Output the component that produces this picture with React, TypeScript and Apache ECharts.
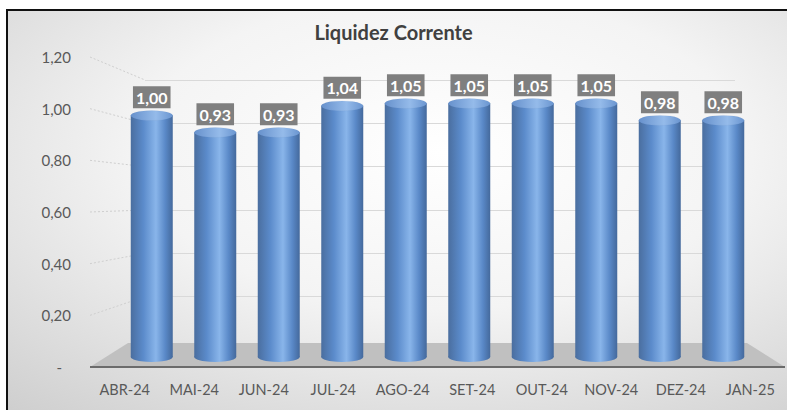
import React, { useEffect, useRef } from "react";
import * as echarts from "echarts";

const title = "Liquidez Corrente";
const categories = ["ABR-24", "MAI-24", "JUN-24", "JUL-24", "AGO-24", "SET-24", "OUT-24", "NOV-24", "DEZ-24", "JAN-25"];
const values = [1.0, 0.93, 0.93, 1.04, 1.05, 1.05, 1.05, 1.05, 0.98, 0.98];
const yTicks = [0, 0.2, 0.4, 0.6, 0.8, 1.0, 1.2];

const W = 787;
const H = 410;
const Y_MAX = 1.2;
const Y_STEP = 0.2;
// front plane (tick labels, floor front edge)
const FRONT = { left: 90, right: 785, top: 57, bottom: 367 };
// middle plane (cylinders)
const MID = { left: 120, right: 755, top: 67, bottom: 357 };
// back wall (0 at bottom, Y_MAX at top)
const BACK = { left: 145, right: 735, top: 80, bottom: 340 };
const FLOOR_BACK = { left: 128, right: 747, y: 343 };
const FONT = "Lato, 'Open Sans', sans-serif";

const fmt = (v: number) => v.toFixed(2).replace(".", ",");
const yFront = (v: number) => FRONT.bottom - (v / Y_MAX) * (FRONT.bottom - FRONT.top);
const yBack = (v: number) => BACK.bottom - (v / Y_MAX) * (BACK.bottom - BACK.top);

export default function App() {
  const ref = useRef<HTMLDivElement>(null);
  useEffect(() => {
    if (!ref.current) return;
    const chart = echarts.init(ref.current, undefined, { renderer: "svg" });

    const barGrad = new echarts.graphic.LinearGradient(0, 0, 1, 0, [
      { offset: 0, color: "#4a6e9f" },
      { offset: 0.3, color: "#5b8bcb" },
      { offset: 0.6, color: "#89b5ea" },
      { offset: 0.82, color: "#5a89c8" },
      { offset: 1, color: "#44699c" },
    ]);
    const topGrad = new echarts.graphic.LinearGradient(0, 0, 1, 0, [
      { offset: 0, color: "#6791cc" },
      { offset: 0.6, color: "#95bbea" },
      { offset: 1, color: "#6a95d0" },
    ]);

    const backBottomGrid = yBack(Y_STEP);

    const sideLines = yTicks
      .filter((v) => v > 0)
      .map((v) => ({
        type: "line",
        z: -5,
        shape: { x1: FRONT.left, y1: yFront(v), x2: BACK.left, y2: yBack(v) },
        style: { stroke: "#cfcfcf", lineWidth: 1, lineDash: [2, 2] },
        silent: true,
      }));

    chart.setOption({
      animation: false,
      title: {
        text: title,
        left: "center",
        top: 17,
        textStyle: { color: "#404040", fontSize: 20, fontWeight: "bold", fontFamily: FONT },
      },
      graphic: [
        {
          type: "rect",
          z: -10,
          shape: { x: 7, y: 10, width: 820, height: 430 },
          style: {
            fill: {
              type: "radial",
              x: 0.53,
              y: 0.33,
              r: 1.05,
              colorStops: [
                { offset: 0, color: "#ffffff" },
                { offset: 0.35, color: "#f4f4f4" },
                { offset: 1, color: "#b9b9b9" },
              ],
            },
            stroke: "#111111",
            lineWidth: 2,
          },
          silent: true,
        },
        ...sideLines,
        {
          type: "polygon",
          z: -4,
          shape: {
            points: [
              [FRONT.left, FRONT.bottom],
              [FLOOR_BACK.left, FLOOR_BACK.y],
              [FLOOR_BACK.right, FLOOR_BACK.y],
              [FRONT.right, FRONT.bottom],
            ],
          },
          style: { fill: "#c0c0c0" },
          silent: true,
        },
        {
          type: "line",
          z: -3,
          shape: { x1: FRONT.left, y1: FRONT.bottom, x2: FRONT.right, y2: FRONT.bottom },
          style: { stroke: "#6b6b6b", lineWidth: 2 },
          silent: true,
        },
      ],
      grid: [
        {
          left: FRONT.left,
          top: FRONT.top,
          width: FRONT.right - FRONT.left,
          height: FRONT.bottom - FRONT.top,
          outerBoundsMode: "none",
        },
        {
          left: MID.left,
          top: MID.top,
          width: MID.right - MID.left,
          height: MID.bottom - MID.top,
          outerBoundsMode: "none",
        },
        {
          left: BACK.left,
          top: BACK.top,
          width: BACK.right - BACK.left,
          height: backBottomGrid - BACK.top,
          outerBoundsMode: "none",
        },
      ],
      xAxis: [
        {
          gridIndex: 0,
          type: "category",
          data: categories,
          axisLine: { show: false },
          axisTick: { show: false },
          axisLabel: { color: "#595959", fontSize: 14.5, fontFamily: FONT, margin: 15, interval: 0, hideOverlap: false },
        },
        { gridIndex: 1, type: "category", data: categories, show: false },
        { gridIndex: 2, type: "category", data: categories, show: false },
      ],
      yAxis: [
        {
          gridIndex: 0,
          type: "value",
          min: 0,
          max: Y_MAX,
          interval: Y_STEP,
          axisLine: { show: false },
          axisTick: { show: false },
          splitLine: { show: false },
          axisLabel: {
            color: "#595959",
            fontSize: 15,
            fontFamily: FONT,
            margin: 19,
            formatter: (v: number) => (Math.abs(v) < 1e-9 ? "{z|-}" : fmt(v)),
            rich: { z: { color: "#595959", fontSize: 15, fontFamily: FONT, padding: [0, 9, 0, 0] } },
          },
        },
        { gridIndex: 1, type: "value", min: 0, max: Y_MAX, show: false },
        {
          gridIndex: 2,
          type: "value",
          min: Y_STEP,
          max: Y_MAX,
          interval: Y_STEP,
          axisLine: { show: false },
          axisTick: { show: false },
          axisLabel: { show: false },
          splitLine: { show: true, lineStyle: { color: "#d9d9d9", width: 1 } },
        },
      ],
      series: [
        {
          type: "bar",
          xAxisIndex: 1,
          yAxisIndex: 1,
          data: values,
          barWidth: 42,
          z: 3,
          itemStyle: { color: barGrad },
          label: {
            show: true,
            position: "top",
            distance: 7,
            formatter: (p: any) => fmt(p.value),
            color: "#ffffff",
            fontWeight: "bold",
            fontSize: 16,
            fontFamily: FONT,
            backgroundColor: "#7f7f7f",
            padding: [3, 3, 3, 3],
          },
        },
        {
          type: "pictorialBar",
          xAxisIndex: 1,
          yAxisIndex: 1,
          data: values,
          symbol: "circle",
          symbolSize: [42, 10],
          symbolOffset: [0, "50%"],
          z: 3,
          itemStyle: { color: barGrad },
        },
        {
          type: "pictorialBar",
          xAxisIndex: 1,
          yAxisIndex: 1,
          data: values,
          symbol: "circle",
          symbolSize: [42, 10],
          symbolPosition: "end",
          symbolOffset: [0, "-50%"],
          z: 4,
          itemStyle: { color: topGrad, borderColor: "#44699f", borderWidth: 1 },
        },
      ],
    });

    return () => chart.dispose();
  }, []);

  return (
    <div
      ref={ref}
      style={{ position: "absolute", left: 0, top: 0, width: W, height: H }}
    />
  );
}
